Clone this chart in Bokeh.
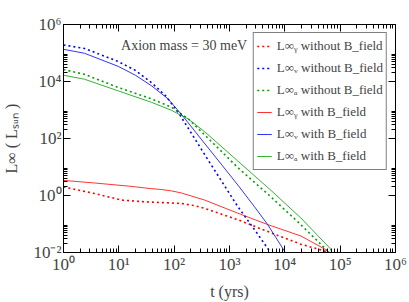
from bokeh.plotting import figure
from bokeh.models import (FixedTicker, CustomJSTickFormatter, LogAxis, Label, Legend, LegendItem)
from bokeh.embed import file_html
from bokeh.resources import INLINE

# ---- data ----
t_gam_noB = [1, 3.63, 11.2, 28.8, 63.1, 135, 224, 355, 1413, 5623, 1.95e4, 5.13e4, 6.31e4]
L_gam_noB = [2.0, 1.17, 0.692, 0.603, 0.562, 0.525, 0.447, 0.355, 0.141, 0.049, 0.0195, 0.0115, 0.0089]

t_nu_noB = [1, 2.40, 9.77, 19.95, 38.9, 70.8, 123, 355, 1413, 2818, 5248, 5623]
L_nu_noB = [1.905e5, 1.445e5, 5.01e4, 2.45e4, 9120, 3090, 741, 27.5, 0.407, 0.0646, 0.01148, 0.0089]

t_a_noB = [1, 2.40, 9.77, 38.9, 89.1, 178, 355, 1413, 5623, 1.82e4, 5.89e4, 6.31e4]
L_a_noB = [2.63e4, 1.78e4, 6166, 2455, 1259, 501, 135, 9.55, 0.891, 0.107, 0.0115, 0.0089]

t_gam_B = [1, 3.63, 14.8, 38.9, 58.9, 89.1, 135, 355, 1413, 4898, 1.95e4, 5.5e4, 7.08e4]
L_gam_B = [3.39, 2.75, 2.14, 1.74, 1.62, 1.45, 1.23, 0.692, 0.24, 0.0955, 0.038, 0.0126, 0.0089]

t_nu_B = [1, 2.40, 9.77, 19.95, 38.9, 77.6, 144.5, 316, 708, 1413, 2818, 4898, 9772, 1.05e4]
L_nu_B = [1.349e5, 9.77e4, 3.39e4, 1.66e4, 7079, 2455, 603, 89.1, 12.6, 2.34, 0.407, 0.0955, 0.01148, 0.0089]

t_a_B = [1, 2.40, 9.77, 38.9, 89.1, 178, 355, 1413, 5623, 1.95e4, 6.61e4, 7.24e4]
L_a_B = [1.66e4, 1.20e4, 4677, 1862, 977, 490, 174, 16.2, 1.51, 0.162, 0.0138, 0.0089]

x_major = [1, 1e1, 1e2, 1e3, 1e4, 1e5, 1e6]
x_minor = [m * d for d in [1, 1e1, 1e2, 1e3, 1e4, 1e5] for m in range(2, 10)]
y_major = [1e-2, 1, 1e2, 1e4, 1e6]
y_minor = [m * d for d in [1e-2, 1, 1e2, 1e4] for m in range(2, 10)]

RED, BLUE, GREEN = "#ff0000", "#0000ff", "#00a000"
SERIF = "Liberation Serif"

p = figure(width=409, height=302, x_axis_type="log", y_axis_type="log",
           x_range=(1, 1e6), y_range=(1e-2, 1e6),
           output_backend="svg", toolbar_location=None,
           min_border_left=62, min_border_right=14, min_border_top=24, min_border_bottom=45)
p.grid.visible = False
p.outline_line_color = "black"
p.outline_line_width = 1
p.background_fill_color = "white"
p.border_fill_color = "white"

fmt = CustomJSTickFormatter(code="""
const sup = {'0':'\u2070','1':'\u00b9','2':'\u00b2','3':'\u00b3','4':'\u2074','5':'\u2075','6':'\u2076','7':'\u2077','8':'\u2078','9':'\u2079','-':'\u207b'};
const e = Math.round(Math.log10(tick));
return '10' + String(e).split('').map(c => sup[c]).join('');
""")

def style_axis(ax, major, minor, labels=True):
    ax.ticker = FixedTicker(ticks=major, minor_ticks=minor)
    ax.major_tick_in = 7
    ax.major_tick_out = 0
    ax.minor_tick_in = 4
    ax.minor_tick_out = 0
    ax.axis_line_color = "black"
    ax.major_tick_line_color = "black"
    ax.minor_tick_line_color = "black"
    if labels:
        ax.formatter = fmt
        ax.major_label_text_font = SERIF
        ax.major_label_text_font_size = "17px"
        ax.major_label_standoff = 2
        ax.axis_label_text_font = SERIF
        ax.axis_label_text_font_size = "16px"
        ax.axis_label_text_font_style = "normal"
    else:
        ax.major_label_text_font_size = "1px"
        ax.major_label_text_alpha = 0
        ax.major_label_standoff = 0

style_axis(p.xaxis[0], x_major, x_minor)
style_axis(p.yaxis[0], y_major, y_minor)
p.xaxis[0].axis_label = "t (yrs)"
p.xaxis[0].axis_label_standoff = 6
p.yaxis[0].axis_label = "L\u221e ( L\u209b\u1d64\u2099 )"
p.yaxis[0].axis_label_standoff = 10

top = LogAxis()
style_axis(top, x_major, x_minor, labels=False)
p.add_layout(top, "above")
right = LogAxis()
style_axis(right, y_major, y_minor, labels=False)
p.add_layout(right, "right")

dot = "2 3"
r1 = p.line(t_gam_noB, L_gam_noB, line_color=RED, line_width=1.6, line_dash=dot)
r2 = p.line(t_nu_noB, L_nu_noB, line_color=BLUE, line_width=1.6, line_dash=dot)
r3 = p.line(t_a_noB, L_a_noB, line_color=GREEN, line_width=1.6, line_dash=dot)
r4 = p.line(t_gam_B, L_gam_B, line_color=RED, line_width=1, line_alpha=0.8)
r5 = p.line(t_nu_B, L_nu_B, line_color=BLUE, line_width=1, line_alpha=0.8)
r6 = p.line(t_a_B, L_a_B, line_color=GREEN, line_width=1, line_alpha=0.8)

lg = "L\u221e"
legend = Legend(items=[
    LegendItem(label=lg + "\u1d67 without B_field", renderers=[r1]),
    LegendItem(label=lg + "\u1d65 without B_field", renderers=[r2]),
    LegendItem(label=lg + "\u2090 without B_field", renderers=[r3]),
    LegendItem(label=lg + "\u1d67 with B_field", renderers=[r4]),
    LegendItem(label=lg + "\u1d65 with B_field", renderers=[r5]),
    LegendItem(label=lg + "\u2090 with B_field", renderers=[r6]),
], location="top_right")
legend.label_text_font = SERIF
legend.label_text_font_size = "13px"
legend.glyph_width = 15
legend.glyph_height = 20
legend.label_height = 20
legend.label_standoff = 5
legend.spacing = 2
legend.padding = 3
legend.margin = 8
legend.border_line_color = "black"
legend.border_line_width = 1
legend.background_fill_alpha = 1
p.add_layout(legend)

p.add_layout(Label(x=11, y=1.9e5, text="Axion mass = 30 meV", text_font=SERIF,
                   text_font_size="14px", text_baseline="alphabetic"))
p.add_layout(Label(x=1e3, y=1e6, text="(b) L vs t : FPS EoS", text_font=SERIF,
                   text_font_size="17px", text_align="center", text_baseline="bottom",
                   y_offset=5))

open("out.html", "w").write(file_html(p, INLINE))
